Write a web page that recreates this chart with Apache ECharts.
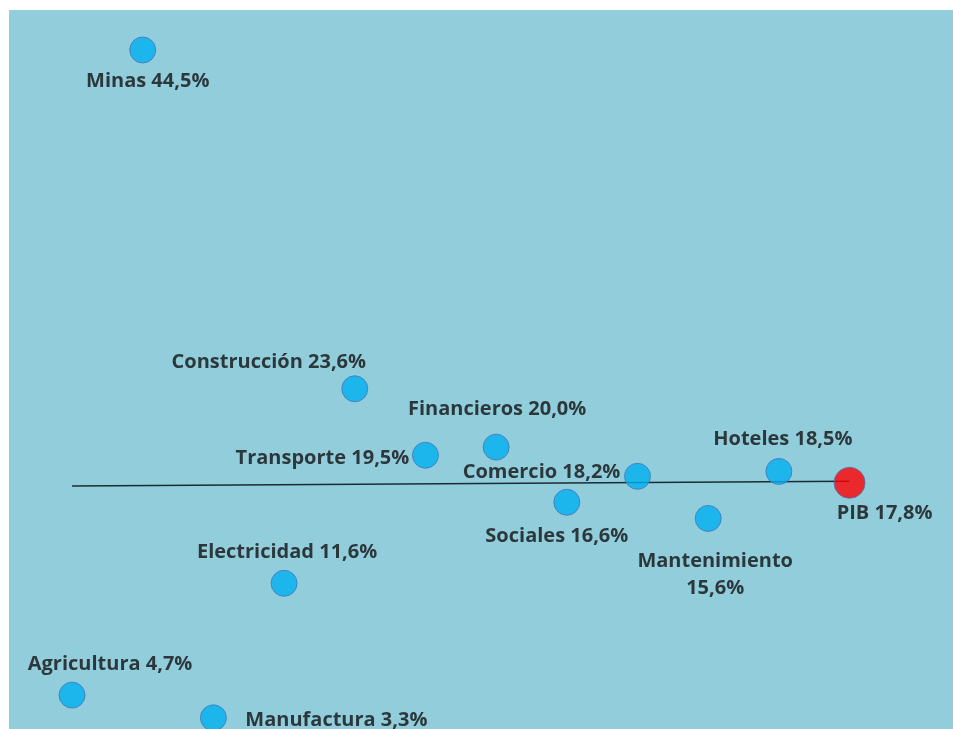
<!DOCTYPE html>
<html>
<head>
<meta charset="utf-8">
<script src="https://cdn.jsdelivr.net/npm/echarts@6/dist/echarts.min.js"></script>
<style>
  html, body { margin: 0; padding: 0; background: #fff; }
  #chart { width: 953px; height: 729px; }
</style>
</head>
<body>
<div id="chart"></div>
<script>
// sectores, de menor a mayor posicion en el eje horizontal
var sectores = ['Agricultura', 'Minas', 'Manufactura', 'Electricidad', 'Construcción', 'Transporte',
                'Financieros', 'Sociales', 'Comercio', 'Mantenimiento', 'Hoteles', 'PIB'];
// participacion (%)
var valores = [4.7, 44.5, 3.3, 11.6, 23.6, 19.5, 20.0, 16.6, 18.2, 15.6, 18.5, 17.8];
// linea de referencia (extremo izquierdo y derecho)
var linea = [17.6, 17.9];

// posicion de cada etiqueta respecto al punto: [dx, dy]
var offsets = [[38, -31], [5, 31], [123, 2], [3, -31], [-86, -26], [-103, 3],
               [1, -38], [-10, 34], [-96, -4], [7, 56], [4, -32], [35, 31]];

function fmt(v) {
  return v.toFixed(1).replace('.', ',') + '%';
}

var chart = echarts.init(document.getElementById('chart'));

var puntos = sectores.map(function (s, i) {
  var esPib = s === 'PIB';
  return {
    name: s,
    value: [s, valores[i]],
    symbolSize: esPib ? 31 : 26,
    itemStyle: {
      color: esPib ? '#FF0000' : '#00B0F0',
      borderColor: '#4A74B5',
      borderWidth: 1
    },
    label: {
      offset: offsets[i],
      formatter: s === 'Mantenimiento' ? s + '\n' + fmt(valores[i]) : s + ' ' + fmt(valores[i])
    }
  };
});

var option = {
  animation: false,
  graphic: {
    elements: [{
      type: 'rect',
      z: -10,
      shape: { x: 9, y: 10, width: 944, height: 719 },
      style: { fill: '#92CDDC' }
    }]
  },
  grid: {
    left: 36.7,
    top: 25.7,
    width: 848.2,
    bottom: 0
  },
  xAxis: {
    type: 'category',
    data: sectores,
    boundaryGap: true,
    show: false
  },
  yAxis: {
    type: 'value',
    min: 2.61,
    max: 46,
    show: false
  },
  series: [
    {
      type: 'line',
      data: [[sectores[0], linea[0]], [sectores[sectores.length - 1], linea[1]]],
      symbol: 'none',
      lineStyle: { color: '#1B2B33', width: 1.5 },
      z: 1
    },
    {
      type: 'scatter',
      data: puntos,
      z: 3,
      clip: false,
      label: {
        show: true,
        position: 'inside',
        align: 'center',
        verticalAlign: 'middle',
        color: '#111111',
        fontFamily: 'Open Sans',
        fontWeight: 'bold',
        fontSize: 20,
        lineHeight: 27
      }
    }
  ]
};

chart.setOption(option);
</script>
</body>
</html>
